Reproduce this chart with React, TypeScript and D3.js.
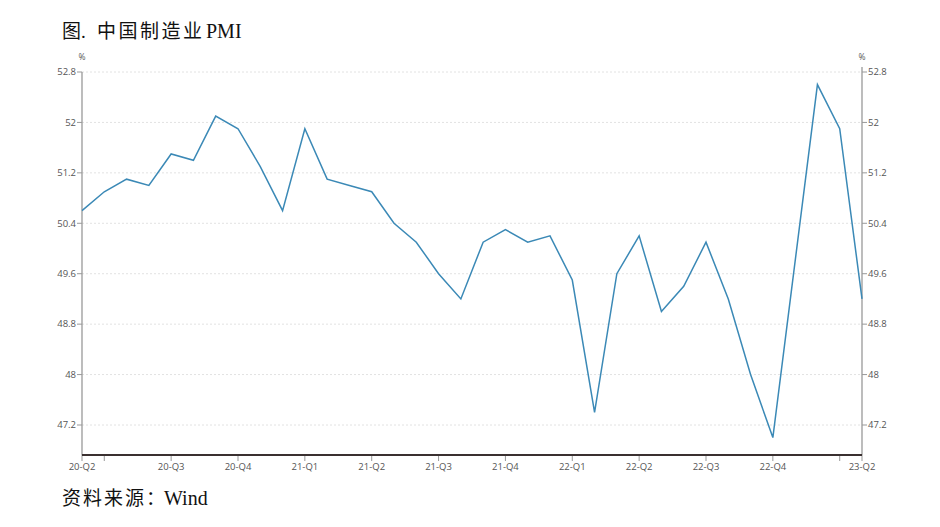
import React from "react";
import * as d3 from "d3";

// Monthly official manufacturing PMI (China), May 2020 – Apr 2023 (Jan 2023 absent in source)
const months: string[] = [
  "2020-05","2020-06","2020-07","2020-08","2020-09","2020-10","2020-11","2020-12",
  "2021-01","2021-02","2021-03","2021-04","2021-05","2021-06","2021-07","2021-08","2021-09","2021-10","2021-11","2021-12",
  "2022-01","2022-02","2022-03","2022-04","2022-05","2022-06","2022-07","2022-08","2022-09","2022-10","2022-11","2022-12",
  "2023-02","2023-03","2023-04",
];
const pmi: number[] = [
  50.6, 50.9, 51.1, 51.0, 51.5, 51.4, 52.1, 51.9,
  51.3, 50.6, 51.9, 51.1, 51.0, 50.9, 50.4, 50.1, 49.6, 49.2, 50.1, 50.3,
  50.1, 50.2, 49.5, 47.4, 49.6, 50.2, 49.0, 49.4, 50.1, 49.2, 48.0, 47.0,
  52.6, 51.9, 49.2,
];
const yTicks: number[] = [47.2, 48, 48.8, 49.6, 50.4, 51.2, 52, 52.8];
// quarter-end tick months; first and last months are labelled as axis ends
const xTickMonths: string[] = [
  "2020-05","2020-06","2020-09","2020-12","2021-03","2021-06","2021-09","2021-12",
  "2022-03","2022-06","2022-09","2022-12","2023-03","2023-04",
];
const hiddenTickLabels: string[] = ["2020-06", "2023-03"];
const titlePrefix = "图.";
const titleCJK = "中国制造业";
const titleLatin = "PMI";
const sourcePrefix = "资料来源：";
const sourceMain = "Wind";

const W = 940, H = 527;
const left = 82, right = 862;
const axisY = 455;

const monthIndex = (m: string) => {
  const [y, mo] = m.split("-").map(Number);
  return (y - 2020) * 12 + (mo - 5);
};
const quarterLabel = (m: string) => {
  const [y, mo] = m.split("-").map(Number);
  return `${String(y).slice(2)}-Q${Math.ceil(mo / 3)}`;
};

export default function App() {
  const x = d3.scaleLinear().domain([0, monthIndex("2023-04")]).range([left, right]);
  const y = d3.scaleLinear().domain([47.2, 52.8]).range([425, 72]);
  const yTop = y(52.88);
  const line = d3
    .line<[string, number]>()
    .x((d) => x(monthIndex(d[0])))
    .y((d) => y(d[1]));
  const pts: [string, number][] = months.map((m, i) => [m, pmi[i]]);
  const fmt = d3.format("~g");
  const axisFont = "'Open Sans', 'Noto Sans', sans-serif";
  const serifFont = "'Liberation Serif', 'Noto Sans CJK SC', serif";
  const labColor = "#555";

  return (
    <svg width={W} height={H} style={{ position: "absolute", left: 0, top: 0, background: "#fff" }}>
      <text y={38} fontFamily={serifFont} fontSize={19} fill="#111">
        <tspan x={62}>{titlePrefix}</tspan>
        <tspan x={97} letterSpacing={2.5}>{titleCJK}</tspan>
        <tspan x={206} fontSize={20}>{titleLatin}</tspan>
      </text>
      {/* grid */}
      {yTicks.map((t) => (
        <line key={"g" + t} x1={left} x2={right} y1={y(t)} y2={y(t)} stroke="#e2e2e2" strokeDasharray="2,2" strokeWidth={1} />
      ))}
      {/* left axis */}
      <line x1={left} x2={left} y1={y(52.8)} y2={axisY} stroke="#999" strokeWidth={1.3} />
      {yTicks.map((t) => (
        <g key={"l" + t}>
          <line x1={left - 5} x2={left} y1={y(t)} y2={y(t)} stroke="#999" />
          <text x={left - 6} y={y(t)} dy="0.35em" textAnchor="end" fontFamily={axisFont} fontSize={9.5} fill={labColor}>
            {fmt(t)}
          </text>
        </g>
      ))}
      <text x={left} y={60} textAnchor="middle" fontFamily={axisFont} fontSize={8.5} fill={labColor}>%</text>
      {/* right axis */}
      <line x1={right} x2={right} y1={yTop} y2={axisY} stroke="#999" strokeWidth={1.3} />
      {yTicks.map((t) => (
        <g key={"r" + t}>
          <line x1={right} x2={right + 5} y1={y(t)} y2={y(t)} stroke="#999" />
          <text x={right + 6} y={y(t)} dy="0.35em" textAnchor="start" fontFamily={axisFont} fontSize={9.5} fill={labColor}>
            {fmt(t)}
          </text>
        </g>
      ))}
      <text x={right} y={60} textAnchor="middle" fontFamily={axisFont} fontSize={8.5} fill={labColor}>%</text>
      {/* bottom axis */}
      {xTickMonths.map((m) => (
        <g key={"x" + m}>
          <line x1={x(monthIndex(m))} x2={x(monthIndex(m))} y1={axisY} y2={axisY + 6} stroke="#999" />
          {!hiddenTickLabels.includes(m) && (
            <text x={x(monthIndex(m))} y={axisY + 15} textAnchor="middle" fontFamily={axisFont} fontSize={9.5} fill={labColor}>
              {quarterLabel(m)}
            </text>
          )}
        </g>
      ))}
      <line x1={left} x2={right} y1={axisY} y2={axisY} stroke="#3a3030" strokeWidth={2} />
      {/* series */}
      <path d={line(pts) ?? ""} fill="none" stroke="#3b89b6" strokeWidth={1.5} strokeLinejoin="miter" />
      <text y={505} fontFamily={serifFont} fontSize={19} fill="#111">
        <tspan x={62} letterSpacing={2}>{sourcePrefix}</tspan>
        <tspan x={164} fontSize={20}>{sourceMain}</tspan>
      </text>
    </svg>
  );
}
